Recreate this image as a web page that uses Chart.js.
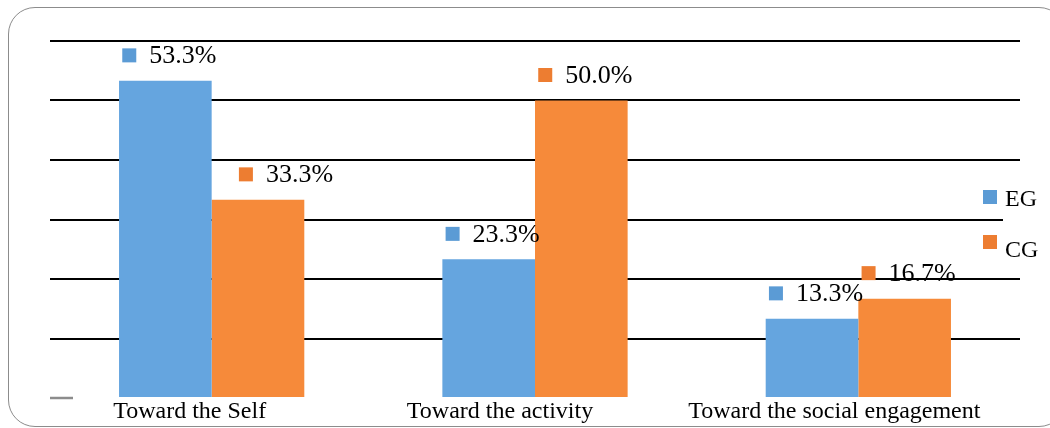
<!DOCTYPE html>
<html>
<head>
<meta charset="utf-8">
<script src="https://cdn.jsdelivr.net/npm/chart.js@4"></script>
<style>
  html, body { margin: 0; padding: 0; background: #fff; overflow: hidden; }
  #wrap { position: relative; width: 1050px; height: 428px; }
  #frame { position: absolute; left: 8px; top: 7px; width: 1058px; height: 420px;
           border: 1.5px solid #8c8c8c; border-radius: 27px; box-sizing: border-box; }
  canvas { position: absolute; left: 0; top: 0; }
</style>
</head>
<body>
<div id="wrap">
  <div id="frame"></div>
  <canvas id="c" width="1050" height="428"></canvas>
</div>
<script>
const categories = ["Toward the Self", "Toward the activity", "Toward the social engagement"];
const seriesNames = ["EG", "CG"];
const egValues = [53.3, 23.3, 13.3];
const cgValues = [33.3, 50.0, 16.7];
const yTicks = [0, 10, 20, 30, 40, 50, 60];

const barColors = ["#65A5DF", "#F68A3A"];
const markColors = ["#5B9BD5", "#ED7D31"];
const FONT = "'Liberation Serif', 'Times New Roman', serif";

const labelPlugin = {
  id: 'valueLabels',
  afterDatasetsDraw(chart) {
    const ctx = chart.ctx;
    ctx.save();
    ctx.font = "26px " + FONT;
    ctx.textBaseline = 'middle';
    ctx.textAlign = 'left';
    chart.data.datasets.forEach((ds, di) => {
      const meta = chart.getDatasetMeta(di);
      meta.data.forEach((bar, i) => {
        const txt = ds.data[i].toFixed(1) + '%';
        const tw = ctx.measureText(txt).width;
        const sq = 14, gap = 13;
        const total = sq + gap + tw;
        let shift = 4;
        if (di === 1 && i === 0) shift = 28;
        const left = bar.x + shift - total / 2;
        const cy = bar.y - 25.5;
        ctx.fillStyle = markColors[di];
        ctx.fillRect(left, cy - sq / 2, sq, sq);
        ctx.fillStyle = '#000';
        ctx.fillText(txt, left + sq + gap, cy + 1);
      });
    });
    ctx.restore();
  }
};

const axisLabelPlugin = {
  id: 'catLabels',
  afterDraw(chart) {
    const ctx = chart.ctx;
    const xs = chart.scales.x;
    const nudges = [-22, -35, -24];
    ctx.save();
    ctx.font = "24px " + FONT;
    ctx.textBaseline = 'alphabetic';
    ctx.textAlign = 'center';
    ctx.fillStyle = '#000';
    chart.data.labels.forEach((lab, i) => {
      ctx.fillText(lab, xs.getPixelForValue(i) + nudges[i], 418);
    });
    ctx.restore();
  }
};

const legendPlugin = {
  id: 'sideLegend',
  afterDraw(chart) {
    const ctx = chart.ctx;
    ctx.save();
    ctx.fillStyle = '#fff';
    ctx.fillRect(1003, 182, 47, 76);
    ctx.font = "24px " + FONT;
    ctx.textBaseline = 'alphabetic';
    ctx.textAlign = 'left';
    const rows = [197, 242];
    const bases = [206, 257];
    chart.data.datasets.forEach((ds, di) => {
      ctx.fillStyle = markColors[di];
      ctx.fillRect(983, rows[di] - 7, 14, 14);
      ctx.fillStyle = '#000';
      ctx.fillText(ds.label, 1005, bases[di]);
    });
    const a = chart.chartArea;
    ctx.strokeStyle = '#8c8c8c';
    ctx.lineWidth = 2.5;
    ctx.beginPath();
    ctx.moveTo(a.left, a.bottom);
    ctx.lineTo(a.left + 23, a.bottom);
    ctx.stroke();
    ctx.restore();
  }
};

new Chart(document.getElementById('c'), {
  type: 'bar',
  data: {
    labels: categories,
    datasets: [
      { label: seriesNames[0], data: egValues, backgroundColor: barColors[0] },
      { label: seriesNames[1], data: cgValues, backgroundColor: barColors[1] }
    ]
  },
  options: {
    responsive: false,
    animation: false,
    devicePixelRatio: 1,
    layout: { padding: { left: 50, right: 30, top: 41, bottom: 0 } },
    plugins: { legend: { display: false }, tooltip: { enabled: false } },
    datasets: { bar: { barPercentage: 1.0, categoryPercentage: 0.573 } },
    scales: {
      x: {
        grid: { display: false },
        border: { display: false },
        ticks: { display: false },
        afterFit(scale) { scale.height = 30; }
      },
      y: {
        min: yTicks[0],
        max: yTicks[yTicks.length - 1],
        afterBuildTicks(scale) { scale.ticks = yTicks.map(v => ({ value: v })); },
        ticks: { display: false },
        border: { display: false },
        grid: {
          drawTicks: false,
          lineWidth: 2,
          color: (c) => (c.tick && c.tick.value === 0) ? 'rgba(0,0,0,0)' : '#000'
        },
        afterFit(scale) { scale.width = 0; }
      }
    }
  },
  plugins: [labelPlugin, axisLabelPlugin, legendPlugin]
});
</script>
</body>
</html>
